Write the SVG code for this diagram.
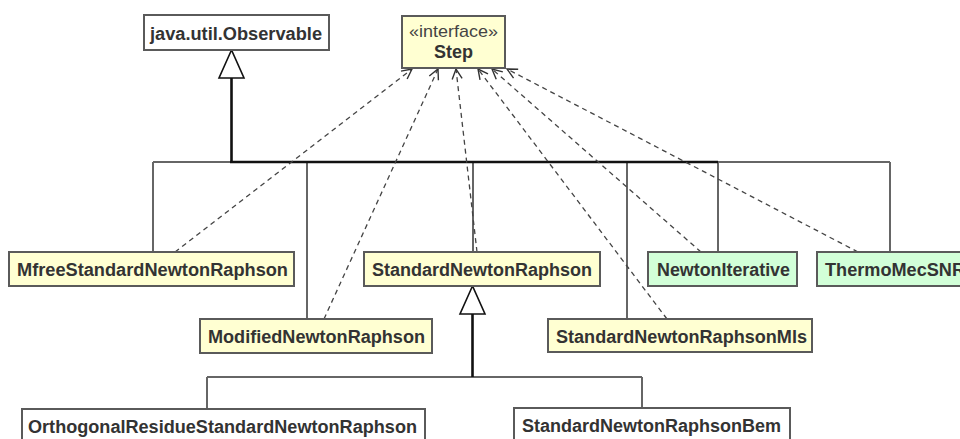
<svg xmlns="http://www.w3.org/2000/svg" width="960" height="439" viewBox="0 0 960 439">
<style>
.box{stroke:#5a5a5a;stroke-width:2}
.cls{fill:#ffffd2}
.grn{fill:#d2ffd8}
.wht{fill:#ffffff}
.t{font-family:"Liberation Sans",Arial,sans-serif;font-weight:bold;font-size:18px;fill:#333}
.st{font-family:"Liberation Sans",Arial,sans-serif;font-size:17px;fill:#444}
.thin{stroke:#666;stroke-width:2;fill:none}
.thick{stroke:#111;stroke-width:2.6;fill:none}
.dash{stroke:#444;stroke-width:1.3;stroke-dasharray:5 4;fill:none;marker-end:url(#open)}
.tri{fill:#fff;stroke:#111;stroke-width:1.6}
</style>
<defs>
<marker id="open" viewBox="0 0 12 12" refX="11" refY="6" markerWidth="12" markerHeight="12" markerUnits="userSpaceOnUse" orient="auto">
<path d="M1,1 L11,6 L1,11" fill="none" stroke="#333" stroke-width="1.4"/>
</marker>
</defs>
<rect width="960" height="439" fill="#fff"/>
<g id="connectors">
<line class="thin" x1="153" y1="162" x2="231" y2="162"/>
<line class="thin" x1="718" y1="162" x2="890" y2="162"/>
<line class="thin" x1="153" y1="162" x2="153" y2="252"/>
<line class="thin" x1="307" y1="162" x2="307" y2="319"/>
<line class="thin" x1="473" y1="162" x2="473" y2="252"/>
<line class="thin" x1="627" y1="162" x2="627" y2="319"/>
<line class="thin" x1="718" y1="162" x2="718" y2="252"/>
<line class="thin" x1="890" y1="162" x2="890" y2="252"/>
<line class="thick" x1="231.5" y1="78" x2="231.5" y2="162"/>
<line class="thick" x1="230" y1="162" x2="718" y2="162"/>
<polygon class="tri" points="231.5,50 219,78 244,78"/>
<line class="thin" x1="207" y1="377" x2="642" y2="377"/>
<line class="thin" x1="207" y1="377" x2="207" y2="409"/>
<line class="thin" x1="642" y1="377" x2="642" y2="408"/>
<line class="thick" x1="472.5" y1="314" x2="472.5" y2="377"/>
<polygon class="tri" points="472.5,286 460,314 485,314"/>
<line class="dash" x1="175" y1="252" x2="412" y2="69"/>
<line class="dash" x1="324" y1="319" x2="438" y2="69"/>
<line class="dash" x1="477" y1="252" x2="456" y2="69"/>
<line class="dash" x1="667" y1="319" x2="478" y2="69"/>
<line class="dash" x1="701" y1="252" x2="492" y2="69"/>
<line class="dash" x1="858" y1="252" x2="507" y2="69"/>
</g>
<g id="observable">
<rect class="box wht" x="144" y="15" width="185" height="35"/>
<text class="t" x="150" y="40" textLength="172" lengthAdjust="spacingAndGlyphs">java.util.Observable</text>
</g>
<g id="step">
<rect class="box cls" x="402" y="16" width="103" height="52"/>
<text class="st" x="409" y="37" textLength="89" lengthAdjust="spacingAndGlyphs">«interface»</text>
<text class="t" x="434" y="58" textLength="39" lengthAdjust="spacingAndGlyphs">Step</text>
</g>
<g id="mfree">
<rect class="box cls" x="9" y="252" width="285" height="34"/>
<text class="t" x="17" y="276" textLength="271" lengthAdjust="spacingAndGlyphs">MfreeStandardNewtonRaphson</text>
</g>
<g id="modified">
<rect class="box cls" x="200" y="319" width="232" height="34"/>
<text class="t" x="208" y="343" textLength="217" lengthAdjust="spacingAndGlyphs">ModifiedNewtonRaphson</text>
</g>
<g id="standard">
<rect class="box cls" x="364" y="252" width="236" height="34"/>
<text class="t" x="372" y="276" textLength="220" lengthAdjust="spacingAndGlyphs">StandardNewtonRaphson</text>
</g>
<g id="mls">
<rect class="box cls" x="548" y="319" width="264" height="33"/>
<text class="t" x="556" y="343" textLength="251" lengthAdjust="spacingAndGlyphs">StandardNewtonRaphsonMls</text>
</g>
<g id="newtoniterative">
<rect class="box grn" x="648" y="252" width="149" height="34"/>
<text class="t" x="657" y="276" textLength="133" lengthAdjust="spacingAndGlyphs">NewtonIterative</text>
</g>
<g id="thermomec">
<rect class="box grn" x="817" y="252" width="160" height="34"/>
<text class="t" x="825" y="276" textLength="140" lengthAdjust="spacingAndGlyphs">ThermoMecSNR</text>
</g>
<g id="orthogonal">
<rect class="box wht" x="22" y="409" width="403" height="36"/>
<text class="t" x="28" y="433" textLength="389" lengthAdjust="spacingAndGlyphs">OrthogonalResidueStandardNewtonRaphson</text>
</g>
<g id="bem">
<rect class="box wht" x="514" y="408" width="276" height="36"/>
<text class="t" x="522" y="432" textLength="259" lengthAdjust="spacingAndGlyphs">StandardNewtonRaphsonBem</text>
</g>
</svg>
